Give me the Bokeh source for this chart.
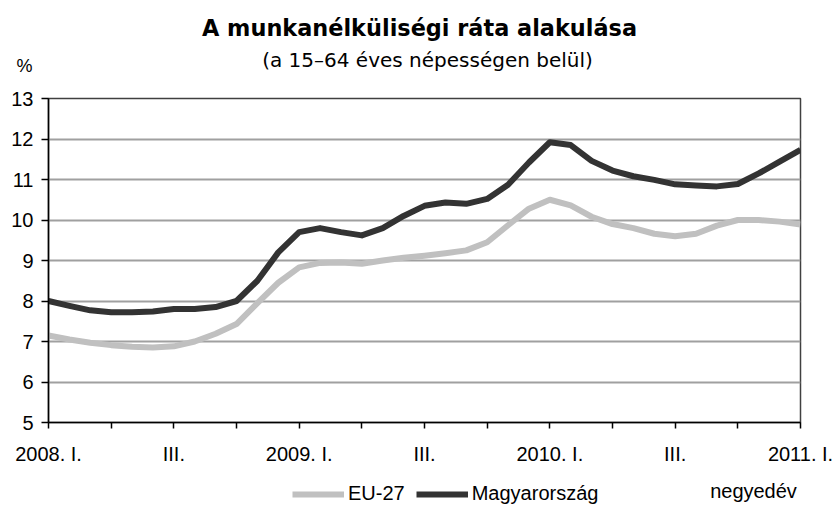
from bokeh.plotting import figure
from bokeh.layouts import column
from bokeh.models import Legend, LegendItem, FixedTicker, Range1d, ColumnDataSource
from bokeh.core.properties import value
from bokeh.embed import file_html
from bokeh.resources import INLINE

# Monthly data, 2008 Jan .. 2011 Jan (index = month number)
months = list(range(37))
eu27 = [7.15, 7.05, 6.97, 6.91, 6.87, 6.85, 6.88, 7.0, 7.19, 7.43, 7.95, 8.45, 8.83,
        8.94, 8.95, 8.92, 9.0, 9.07, 9.12, 9.18, 9.25, 9.45, 9.87, 10.28, 10.5,
        10.36, 10.08, 9.9, 9.8, 9.66, 9.6, 9.66, 9.86, 10.0, 10.0, 9.96, 9.89]
hungary = [8.0, 7.88, 7.77, 7.72, 7.72, 7.74, 7.8, 7.8, 7.85, 8.0, 8.5, 9.2, 9.7,
           9.8, 9.7, 9.62, 9.8, 10.1, 10.35, 10.43, 10.4, 10.52, 10.87, 11.42, 11.92,
           11.85, 11.46, 11.22, 11.08, 10.99, 10.88, 10.85, 10.83, 10.89, 11.15, 11.44, 11.73]

tick_pos = [0, 3, 6, 9, 12, 15, 18, 21, 24, 27, 30, 33, 36]
tick_labels = ["2008. I.", "", "III.", "", "2009. I.", "", "III.", "",
               "2010. I.", "", "III.", "", "2011. I."]
y_ticks = [5, 6, 7, 8, 9, 10, 11, 12, 13]

title_text = "A munkanélküliségi ráta alakulása"
subtitle_text = "(a 15–64 éves népességen belül)"
unit_text = "%"
xunit_text = "negyedév"
series_names = ["EU-27", "Magyarország"]

FONT = "Liberation Sans"
W = 837
HEAD_H = 80
FOOT_H = 35
FRAME_L, FRAME_R = 48, 800   # page x of the plot frame

src = ColumnDataSource(dict(x=months, eu=eu27, hu=hungary))

# ---- header (titles; unit label as a y-axis tick label) ----
head = figure(width=W, height=HEAD_H, x_range=Range1d(FRAME_L, FRAME_R),
              y_range=Range1d(HEAD_H, 0), x_axis_type=None, output_backend="svg",
              toolbar_location=None, min_border=0)
head.outline_line_color = None
head.grid.visible = False
head.title.text = ""
head.yaxis.ticker = FixedTicker(ticks=[65])
head.yaxis.major_label_overrides = {65: unit_text}
head.yaxis.axis_line_color = None
head.yaxis.major_tick_line_color = None
head.yaxis.minor_tick_line_color = None
head.yaxis.major_tick_out = 0
head.yaxis.major_tick_in = 0
head.yaxis.major_label_standoff = 16
head.yaxis.major_label_text_font = FONT
head.yaxis.major_label_text_font_size = "18px"
head.yaxis.major_label_text_color = "black"
head.text(x=[419], y=[27], text=[title_text], text_align="center",
          text_baseline="alphabetic", text_font=value("DejaVu Sans"),
          text_font_style="bold", text_font_size="22.4px", text_color="black")
head.text(x=[427], y=[59], text=[subtitle_text], text_align="center",
          text_baseline="alphabetic", text_font=value("DejaVu Sans"),
          text_font_size="20px", text_color="black")

# ---- main chart ----
p = figure(width=W, height=505 - HEAD_H - FOOT_H, x_range=Range1d(0, 36), y_range=Range1d(5, 13),
           output_backend="svg", toolbar_location=None,
           min_border_left=FRAME_L, min_border_right=W - FRAME_R, min_border_top=18,
           min_border_bottom=48)
p.title.text = ""
p.outline_line_color = "#404040"
p.outline_line_width = 1.5

p.line("x", "eu", source=src, line_color="#c0c0c0", line_width=6, line_join="round")
p.line("x", "hu", source=src, line_color="#333333", line_width=6, line_join="round")

p.xgrid.grid_line_color = None
p.ygrid.grid_line_color = "#a0a0a0"
p.ygrid.grid_line_width = 2

p.xaxis.ticker = FixedTicker(ticks=tick_pos)
p.xaxis.major_label_overrides = {t: l for t, l in zip(tick_pos, tick_labels)}
p.yaxis.ticker = FixedTicker(ticks=y_ticks)

for ax in (p.xaxis[0], p.yaxis[0]):
    ax.axis_line_color = "black"
    ax.axis_line_width = 1.5
    ax.major_tick_line_color = "black"
    ax.major_tick_line_width = 1.5
    ax.minor_tick_line_color = None
    ax.major_tick_in = 0
    ax.major_label_text_font = FONT
    ax.major_label_text_font_size = "20px"
    ax.major_label_text_color = "black"

p.xaxis.major_tick_out = 6
p.xaxis.major_label_standoff = 14
p.yaxis.major_tick_out = 7
p.yaxis.major_label_standoff = 8

# ---- footer (legend + x unit) ----
foot = figure(width=W, height=FOOT_H, x_range=Range1d(FRAME_L, FRAME_R),
              y_range=Range1d(FOOT_H, 0), x_axis_type=None, y_axis_type=None,
              output_backend="svg", toolbar_location=None, min_border=0)
foot.outline_line_color = None
foot.grid.visible = False
foot.title.text = ""
foot.extra_x_ranges = {"off": Range1d(1000, 2000)}
f_eu = foot.line("x", "eu", source=src, x_range_name="off",
                 line_color="#c0c0c0", line_width=6)
f_hu = foot.line("x", "hu", source=src, x_range_name="off",
                 line_color="#333333", line_width=6)
legend = Legend(items=[LegendItem(label=series_names[0], renderers=[f_eu]),
                       LegendItem(label=series_names[1], renderers=[f_hu])],
                location=(244, 0), orientation="horizontal", padding=0, margin=0,
                spacing=11, glyph_width=52, glyph_height=20, label_standoff=4,
                label_text_font=FONT, label_text_font_size="20px",
                label_text_color="black",
                border_line_color=None, background_fill_alpha=0)
foot.add_layout(legend)
foot.text(x=[753], y=[20], text=[xunit_text], text_align="center",
          text_baseline="alphabetic", text_font=value(FONT),
          text_font_size="20px", text_color="black")

layout = column(head, p, foot, spacing=0)
open("out.html", "w").write(file_html(layout, INLINE))
